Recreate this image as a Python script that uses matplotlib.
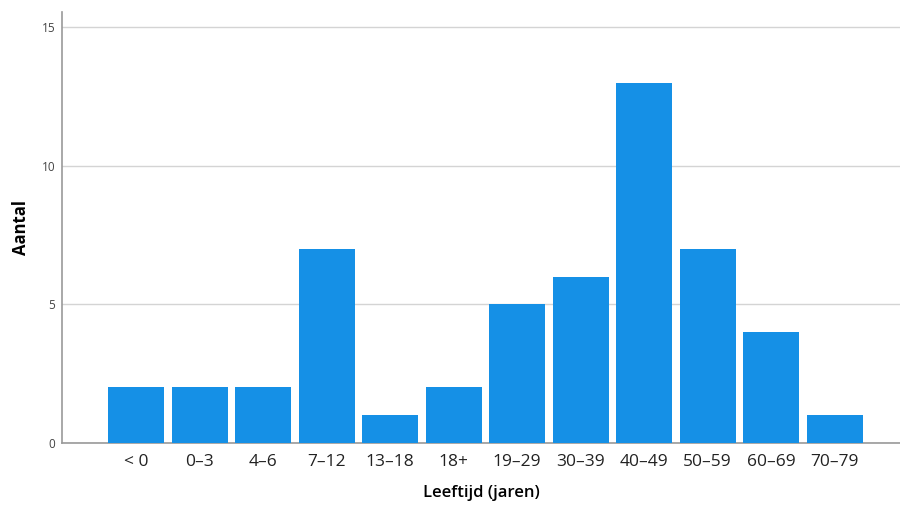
import matplotlib
import matplotlib.pyplot as plt

matplotlib.use("Agg")

categories = ["< 0", "0–3", "4–6", "7–12", "13–18", "18+", "19–29",
              "30–39", "40–49", "50–59", "60–69", "70–79"]
counts = [2, 2, 2, 7, 1, 2, 5, 6, 13, 7, 4, 1]
y_ticks = [0, 5, 10, 15]

plt.rcParams["font.family"] = ["Open Sans", "DejaVu Sans"]

fig = plt.figure(figsize=(9, 5.05), dpi=100)
ax = fig.add_axes([0.069, 0.123, 0.931, 0.853])

x = list(range(len(categories)))
ax.bar(x, counts, width=0.88, color="#1590E6", zorder=3)

ax.set_xlim(-1.165, 12.03)
ax.set_ylim(0, 15.54)
ax.set_yticks(y_ticks)
ax.set_yticklabels([str(v) for v in y_ticks], fontsize=8.5, color="#444444")
ax.set_xticks(x)
ax.set_xticklabels(categories, fontsize=12.5, color="#222222")
ax.tick_params(axis="x", length=0, pad=8)
ax.tick_params(axis="y", length=0, pad=5)

ax.grid(axis="y", color="#d4d4d4", linewidth=1, zorder=0)
for side in ("top", "right"):
    ax.spines[side].set_visible(False)
for side in ("left", "bottom"):
    ax.spines[side].set_color("#999999")
    ax.spines[side].set_linewidth(1.2)

ax.set_ylabel("Aantal", fontsize=12, fontweight="bold", labelpad=8)
ax.set_xlabel("Leeftijd (jaren)", fontsize=12, fontweight="semibold", labelpad=11)

fig.savefig("out.png", dpi=100)
plt.close(fig)
